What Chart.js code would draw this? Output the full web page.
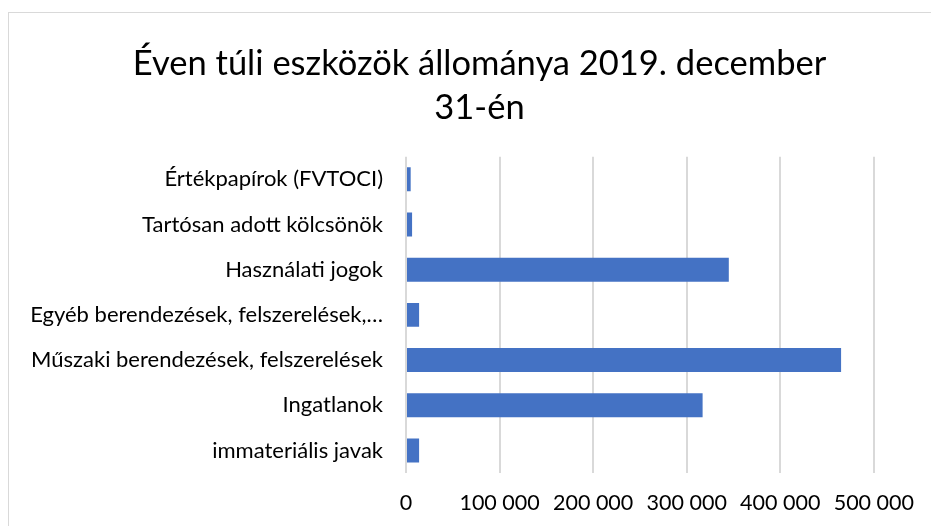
<!DOCTYPE html>
<html>
<head>
<meta charset="utf-8">
<script src="https://cdn.jsdelivr.net/npm/chart.js@4"></script>
<style>
  body { margin: 0; background: #fff; }
  #frame { position: absolute; left: 8px; top: 12px; width: 930px; height: 540px; border: 1.5px solid #d9d9d9; }
  #myChart { position: absolute; left: 0; top: 0; }
</style>
</head>
<body>
<div id="frame"></div>
<canvas id="myChart" width="931" height="526"></canvas>
<script>
var titleLines = ['Éven túli eszközök állománya 2019. december', '31-én'];
var categories = [
    'Értékpapírok (FVTOCI)',
    'Tartósan adott kölcsönök',
    'Használati jogok',
    'Egyéb berendezések, felszerelések,…',
    'Műszaki berendezések, felszerelések',
    'Ingatlanok',
    'immateriális javak'
];
var values = [5000, 6500, 345000, 14000, 465000, 317000, 14000];
var xMax = 500000;
var xStep = 100000;

// the title is centred on the whole frame, not on the plot
var shiftTitle = {
    id: 'shiftTitle',
    afterLayout: function(chart) {
        if (chart.titleBlock) {
            chart.titleBlock.left = 80;
            chart.titleBlock.right = 879;
        }
    }
};

document.addEventListener('DOMContentLoaded', function() {
    var ctx = document.getElementById('myChart');

    new Chart(ctx.getContext('2d'), {
        type: 'bar',
        data: {
            labels: categories,
            datasets: [{
                data: values,
                backgroundColor: '#4472C4',
                barPercentage: 0.53,
                categoryPercentage: 1
            }]
        },
        plugins: [shiftTitle],
        options: {
            indexAxis: 'y',
            responsive: false,
            animation: false,
            layout: {
                padding: { left: 28, right: 49, top: 0, bottom: 0 }
            },
            plugins: {
                legend: { display: false },
                tooltip: { enabled: false },
                title: {
                    display: true,
                    text: titleLines,
                    color: '#000',
                    font: { family: 'Lato', size: 34.5, weight: 'normal', lineHeight: 1.3 },
                    padding: { top: 41, bottom: 26 }
                }
            },
            scales: {
                x: {
                    min: 0,
                    max: xMax,
                    grid: { color: '#d9d9d9', lineWidth: 2, drawTicks: false },
                    border: { display: false },
                    afterFit: function(s) { s.height = 53; },
                    ticks: {
                        stepSize: xStep,
                        padding: 17,
                        color: '#000',
                        font: { family: 'Lato', size: 21.5 },
                        callback: function(v) {
                            return String(v).replace(/\B(?=(\d{3})+(?!\d))/g, ' ');
                        }
                    }
                },
                y: {
                    grid: { display: false },
                    border: { display: false },
                    afterFit: function(s) { s.width = 378; },
                    ticks: {
                        padding: 15,
                        color: '#000',
                        font: { family: 'Lato', size: 22 }
                    }
                }
            }
        }
    });
});
</script>
</body>
</html>
